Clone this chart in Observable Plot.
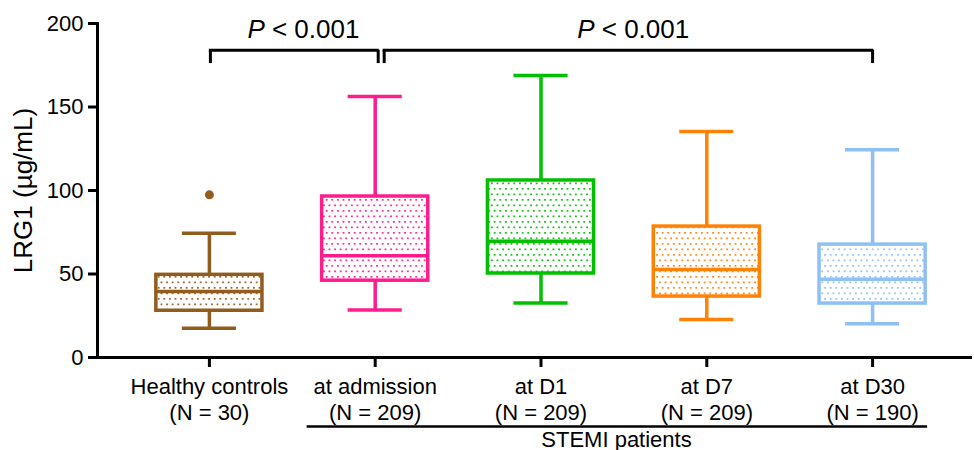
<!DOCTYPE html>
<html>
<head>
<meta charset="utf-8">
<script src="https://cdn.jsdelivr.net/npm/d3@7"></script>
<script src="https://cdn.jsdelivr.net/npm/@observablehq/plot@0.6"></script>
<style>
  html, body { margin: 0; padding: 0; background: white; }
</style>
</head>
<body>
<div id="chart"></div>
<script>
// ---- data ----
const categories = ["Healthy controls", "at admission", "at D1", "at D7", "at D30"];
const nLabels = ["(N = 30)", "(N = 209)", "(N = 209)", "(N = 209)", "(N = 190)"];
const whiskerLow = [17.5, 28.5, 32.7, 22.8, 20.2];
const q1 = [28, 46, 50.3, 36.5, 32.3];
const median = [39.5, 61, 69.6, 52.7, 46.9];
const q3 = [49.5, 96.4, 106, 78.4, 67.6];
const whiskerHigh = [74.4, 156.3, 168.9, 135.3, 124.4];
const outlierCategories = ["Healthy controls"];
const outlierValues = [97.4];
const colors = ["#915D1F", "#FF1C8D", "#00C000", "#FF8205", "#8EC0F4"];
const yTicks = [0, 50, 100, 150, 200];
const yLabel = "LRG1 (µg/mL)";
const bracketFrom = ["Healthy controls", "at admission"];
const bracketTo = ["at admission", "at D30"];
const bracketLabels = ["P < 0.001", "P < 0.001"];
const bracketTop = 184;
const bracketBottom = 176;
const groupLabel = "STEMI patients";
const groupFrom = "at admission";
const groupTo = "at D30";

// ---- tables built from the arrays ----
const rows = categories.map((c, i) => ({
  category: c, low: whiskerLow[i], q1: q1[i], median: median[i], q3: q3[i], high: whiskerHigh[i],
  color: colors[i], pattern: `url(#dots-${i})`
}));
const outliers = outlierCategories.map((c, i) => ({category: c, value: outlierValues[i], color: colors[categories.indexOf(c)]}));
const brackets = bracketFrom.map((f, i) => ({from: f, to: bracketTo[i], label: bracketLabels[i], top: bracketTop, bottom: bracketBottom}));
const groups = [{label: groupLabel, from: groupFrom, to: groupTo, base: 0}];

const sw = 3.5;
const chart = Plot.plot({
  width: 974,
  height: 450,
  marginLeft: 97,
  marginRight: 2,
  marginTop: 23,
  marginBottom: 93,
  style: {fontFamily: "'Liberation Sans', Arial, Helvetica, sans-serif", color: "black", background: "white", overflow: "visible"},
  x: {domain: categories, range: [126, 955], paddingInner: 0.36, paddingOuter: 0.18, round: false},
  y: {domain: [0, 200]},
  color: {type: "identity"},
  marks: [
    // whiskers
    Plot.ruleX(rows, {x: "category", y1: "low", y2: "high", stroke: "color", strokeWidth: sw}),
    Plot.tickY(rows, {x: "category", y: "low", stroke: "color", strokeWidth: sw, insetLeft: 26, insetRight: 26}),
    Plot.tickY(rows, {x: "category", y: "high", stroke: "color", strokeWidth: sw, insetLeft: 26, insetRight: 26}),
    // boxes
    Plot.barY(rows, {x: "category", y1: "q1", y2: "q3", fill: "pattern", stroke: "color", strokeWidth: sw}),
    Plot.tickY(rows, {x: "category", y: "median", stroke: "color", strokeWidth: sw}),
    // outlier
    Plot.dot(outliers, {x: "category", y: "value", r: 4.5, fill: "color", stroke: null}),
    // axes
    Plot.axisY({ticks: yTicks, tickSize: 9, tickPadding: 5, fontSize: 22, strokeWidth: 3, label: null}),
    Plot.axisX({tickSize: 10, tickPadding: 8, fontSize: 22, lineHeight: 1.18, strokeWidth: 3, label: null,
      tickFormat: d => d + "\n" + nLabels[categories.indexOf(d)]}),
    Plot.frame({anchor: "left", strokeWidth: 3}),
    Plot.ruleY([0], {strokeWidth: 3}),
    Plot.text([yLabel], {text: d => d, frameAnchor: "left", textAnchor: "middle", rotate: -90, dx: -73.5, fontSize: 26, lineAnchor: "middle"}),
    // significance brackets
    Plot.ruleY([brackets[0]], {y: "top", x1: "from", x2: "to", strokeWidth: 3, insetLeft: 53, insetRight: 49}),
    Plot.ruleX([brackets[0]], {x: "from", y1: "bottom", y2: "top", strokeWidth: 3, dx: 1}),
    Plot.ruleX([brackets[0]], {x: "to", y1: "bottom", y2: "top", strokeWidth: 3, dx: 3}),
    Plot.ruleY([brackets[1]], {y: "top", x1: "from", x2: "to", strokeWidth: 3, insetLeft: 61, insetRight: 52}),
    Plot.ruleX([brackets[1]], {x: "from", y1: "bottom", y2: "top", strokeWidth: 3, dx: 9}),
    Plot.ruleX([brackets[1]], {x: "to", y1: "bottom", y2: "top", strokeWidth: 3, dx: 0}),
    Plot.text([brackets[0]], {x: "from", y: 200, text: "label", fontSize: 26, dx: 94, dy: 6.5, lineAnchor: "middle"}),
    Plot.text([brackets[1]], {x: "from", y: 200, text: "label", fontSize: 26, dx: 258, dy: 6.5, lineAnchor: "middle"}),
    // group underline and label
    Plot.ruleY(groups, {y: "base", x1: "from", x2: "to", strokeWidth: 2.5, dy: 69, insetLeft: -15, insetRight: -2}),
    Plot.text(groups, {text: "label", frameAnchor: "bottom", dx: 81.5, dy: 82, fontSize: 22, lineAnchor: "middle"})
  ]
});

// dotted fill patterns
const ns = "http://www.w3.org/2000/svg";
const defs = document.createElementNS(ns, "defs");
colors.forEach((c, i) => {
  const p = document.createElementNS(ns, "pattern");
  p.setAttribute("id", `dots-${i}`);
  p.setAttribute("patternUnits", "userSpaceOnUse");
  p.setAttribute("width", "5.6");
  p.setAttribute("height", "11");
  const bg = document.createElementNS(ns, "rect");
  bg.setAttribute("width", "5.6"); bg.setAttribute("height", "11"); bg.setAttribute("fill", "white");
  p.appendChild(bg);
  [[1, 1], [3.8, 6.5]].forEach(([x, y]) => {
    const r = document.createElementNS(ns, "rect");
    r.setAttribute("x", x); r.setAttribute("y", y);
    r.setAttribute("width", "1.7"); r.setAttribute("height", "1.7");
    r.setAttribute("fill", c);
    p.appendChild(r);
  });
  defs.appendChild(p);
});
chart.insertBefore(defs, chart.firstChild);

// italic P in the significance labels
chart.querySelectorAll("text").forEach(t => {
  if (t.textContent === "P < 0.001") {
    t.textContent = "";
    const a = document.createElementNS(ns, "tspan");
    a.setAttribute("font-style", "italic");
    a.textContent = "P";
    const b = document.createElementNS(ns, "tspan");
    b.textContent = " < 0.001";
    t.appendChild(a); t.appendChild(b);
  }
});

document.getElementById("chart").appendChild(chart);
</script>
</body>
</html>
